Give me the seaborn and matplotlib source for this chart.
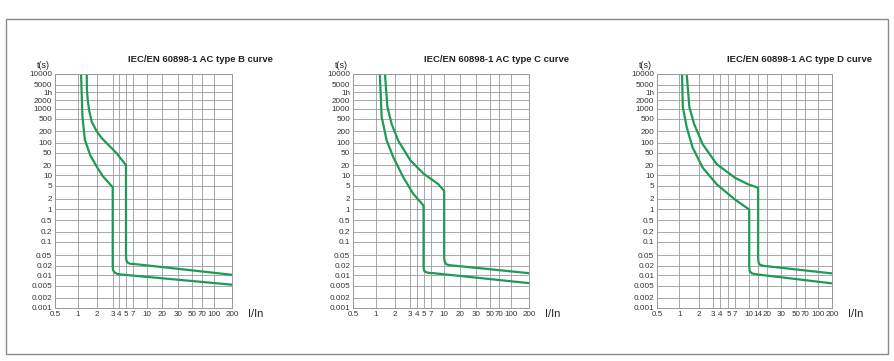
import matplotlib
matplotlib.use("Agg")
import numpy as np
import matplotlib.pyplot as plt
import seaborn as sns
from matplotlib.patches import Rectangle

# y ticks (seconds), 1h = 3600 s
y_ticks = [10000, 5000, 3600, 2000, 1000, 500, 200, 100, 50, 20, 10, 5, 2, 1,
           0.5, 0.2, 0.1, 0.05, 0.02, 0.01, 0.005, 0.002, 0.001]
y_labels = ["10000", "5000", "1h", "2000", "1000", "500", "200", "100", "50", "20",
            "10", "5", "2", "1", "0.5", "0.2", "0.1", "0.05", "0.02", "0.01",
            "0.005", "0.002", "0.001"]
# where each y tick sits on the hand-drawn chart (fraction of height, bottom = 0)
y_tick_pos = [1.0, 0.954, 0.923, 0.887, 0.851, 0.809, 0.756, 0.706, 0.663, 0.61,
              0.567, 0.523, 0.466, 0.423, 0.374, 0.326, 0.283, 0.226, 0.18, 0.139,
              0.096, 0.043, 0.0]

x_ticks_bc = [0.5, 1, 2, 3, 4, 5, 7, 10, 20, 30, 50, 70, 100, 200]
x_pos_bc = [0, 0.128, 0.236, 0.326, 0.363, 0.401, 0.442, 0.518, 0.606, 0.697,
            0.776, 0.832, 0.896, 1.0]
x_ticks_d = [0.5, 1, 2, 3, 4, 5, 7, 10, 14, 20, 30, 50, 70, 100, 200]
x_pos_d = [0, 0.128, 0.238, 0.320, 0.362, 0.408, 0.445, 0.527, 0.578, 0.630,
           0.710, 0.792, 0.848, 0.918, 1.0]

titles = ["IEC/EN 60898-1 AC type B curve",
          "IEC/EN 60898-1 AC type C curve",
          "IEC/EN 60898-1 AC type D curve"]

# type B
b_up_x = [1.39, 1.40, 1.44, 1.51, 1.66, 2.0, 2.27, 2.57, 3.55, 5.0, 5.0, 5.05, 5.3, 6.0, 7.7, 200]
b_up_t = [10000, 3990, 2100, 935, 404, 195, 132, 98, 49, 20, 0.055, 0.035, 0.027, 0.024, 0.0229, 0.0105]
b_lo_x = [1.13, 1.19, 1.30, 1.57, 2.0, 2.36, 3.0, 3.0, 3.05, 3.3, 3.7, 4.1, 200]
b_lo_t = [10000, 580, 119, 43, 18, 9.1, 4.5, 0.0187, 0.0145, 0.0122, 0.0112, 0.0108, 0.0053]

# type C
c_up_x = [1.41, 1.54, 1.80, 2.2, 3.0, 5.0, 8.5, 10.0, 10.0, 10.2, 11.0, 13.0, 17.5, 200]
c_up_t = [10000, 1190, 337, 113, 28.7, 11.2, 5.6, 3.5, 0.041, 0.029, 0.023, 0.021, 0.02, 0.0118]
c_lo_x = [1.17, 1.25, 1.5, 1.91, 2.5, 3.4, 5.0, 5.0, 5.1, 5.5, 6.3, 7.5, 200]
c_lo_t = [10000, 570, 116, 36.4, 8.8, 2.85, 1.27, 0.0188, 0.0145, 0.0128, 0.0121, 0.0118, 0.0059]

# type D
d_up_x = [1.30, 1.43, 1.70, 2.24, 3.46, 7.0, 9.7, 14.0, 14.0, 14.2, 15.0, 16.5, 17.6, 200]
d_up_t = [10000, 1170, 336, 91, 21.8, 8.5, 5.5, 4.3, 0.038, 0.027, 0.022, 0.0205, 0.02, 0.0116]
d_lo_x = [1.10, 1.13, 1.30, 1.6, 2.24, 3.46, 7.0, 10.0, 10.0, 10.2, 11.0, 12.5, 14.0, 200]
d_lo_t = [10000, 1170, 268, 74, 17, 5.5, 1.93, 0.97, 0.019, 0.0135, 0.0117, 0.011, 0.0107, 0.0058]

curves = [((b_up_x, b_up_t), (b_lo_x, b_lo_t)),
          ((c_up_x, c_up_t), (c_lo_x, c_lo_t)),
          ((d_up_x, d_up_t), (d_lo_x, d_lo_t))]
x_ticks_all = [x_ticks_bc, x_ticks_bc, x_ticks_d]
x_pos_all = [x_pos_bc, x_pos_bc, x_pos_d]


def grid_scale(ticks, pos):
    # piecewise log scale that follows the uneven grid of the original drawing
    lt = np.log10(np.asarray(ticks, dtype=float))
    p = np.asarray(pos, dtype=float)
    order = np.argsort(lt)
    lt, p = lt[order], p[order]

    def fwd(v):
        v = np.maximum(np.asarray(v, dtype=float), 1e-9)
        return np.interp(np.log10(v), lt, p, left=p[0] - 1, right=p[-1] + 1)

    def inv(f):
        return 10 ** np.interp(np.asarray(f, dtype=float), p, lt)

    return fwd, inv


sns.set_theme(style="white")
plt.rcParams["font.family"] = ["Liberation Sans", "DejaVu Sans"]

green = "#1f9a55"
grid_c = "#999999"

fig = plt.figure(figsize=(8.95, 3.61), dpi=100)
fig.patches.append(Rectangle((6 / 895, 7 / 361), 882 / 895, 335 / 361,
                             transform=fig.transFigure, fill=False,
                             edgecolor="#8a8a8a", linewidth=1.0))

y_fwd, y_inv = grid_scale(y_ticks, y_tick_pos)

lefts = [55, 353, 657]
widths = [177, 176, 175]
for i in range(3):
    ax = fig.add_axes([lefts[i] / 895, 53 / 361, widths[i] / 895, 234 / 361])
    x_fwd, x_inv = grid_scale(x_ticks_all[i], x_pos_all[i])
    ax.set_xscale("function", functions=(x_fwd, x_inv))
    ax.set_yscale("function", functions=(y_fwd, y_inv))
    for xs, ts in curves[i]:
        sns.lineplot(x=xs, y=ts, sort=False, estimator=None, ax=ax,
                     color=green, linewidth=1.6)
    ax.set_xlim(0.5, 200)
    ax.set_ylim(0.001, 10000)
    ax.set_xticks(x_ticks_all[i])
    ax.set_xticklabels([f"{v:g}" for v in x_ticks_all[i]])
    ax.set_yticks(y_ticks)
    ax.set_yticklabels(y_labels)
    ax.minorticks_off()
    ax.tick_params(axis="y", length=0, labelsize=5.9, pad=2, colors="#333333")
    ax.tick_params(axis="x", length=0, labelsize=5.8, pad=2.5, colors="#333333")
    ax.grid(True, color=grid_c, linewidth=0.6)
    for sp in ax.spines.values():
        sp.set_color(grid_c)
        sp.set_linewidth(0.7)
    ax.set_xlabel("")
    ax.set_ylabel("")
    ax.text(-0.068, 1.038, "t(s)", transform=ax.transAxes, fontsize=6.5,
            ha="center", va="center", color="#222222")
    ax.text(1.09, -0.027, "I/In", transform=ax.transAxes, fontsize=8,
            ha="left", va="center", color="#222222")
    ax.text(1.23, 1.06, titles[i], transform=ax.transAxes, fontsize=6.8,
            fontweight="bold", ha="right", va="center", color="#222222")

fig.savefig("out.png", dpi=100)
